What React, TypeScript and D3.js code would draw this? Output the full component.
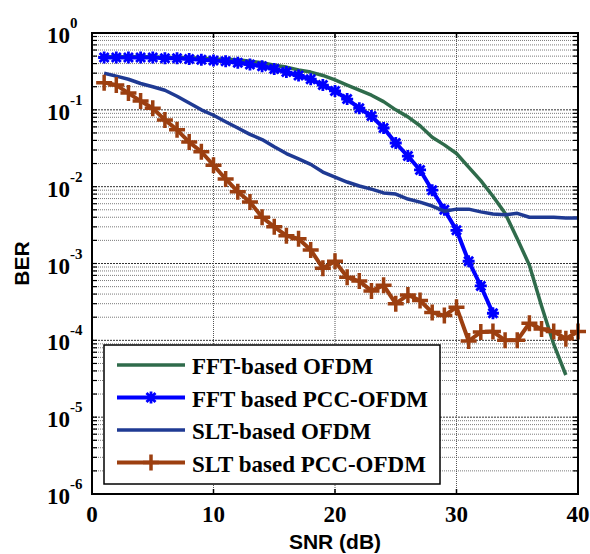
import React from "react";
import * as d3 from "d3";

const width = 590;
const height = 554;
const margin = { top: 33, right: 12, bottom: 60, left: 92 };

const snrAll = d3.range(1, 41);

// FFT-based OFDM (plain line)
const fftOfdm = [0.49, 0.49, 0.49, 0.49, 0.49, 0.48, 0.48, 0.475, 0.47, 0.46, 0.455, 0.45, 0.43, 0.41, 0.38, 0.36, 0.33, 0.31, 0.28, 0.245,
  0.21, 0.18, 0.155, 0.128, 0.1, 0.081, 0.062, 0.044, 0.035, 0.027, 0.018, 0.012, 0.0075, 0.0045, 0.0021, 0.00095, 0.00028, 0.000089, 0.0000354];
// FFT based PCC-OFDM (asterisk markers)
const fftPcc = [0.48, 0.48, 0.48, 0.48, 0.48, 0.47, 0.47, 0.46, 0.45, 0.44, 0.43, 0.41, 0.39, 0.37, 0.34, 0.31, 0.28, 0.25, 0.21, 0.176,
  0.138, 0.105, 0.083, 0.058, 0.037, 0.025, 0.0165, 0.009, 0.005, 0.0027, 0.00107, 0.00051, 0.000225];
// SLT-based OFDM (plain line)
const sltOfdm = [0.30, 0.275, 0.25, 0.22, 0.2, 0.18, 0.15, 0.123, 0.1, 0.085, 0.07, 0.058, 0.048, 0.041, 0.033, 0.027, 0.023, 0.0195, 0.0155, 0.0133,
  0.0115, 0.0102, 0.0093, 0.0083, 0.008, 0.0069, 0.0063, 0.0056, 0.0048, 0.0051, 0.0051, 0.0047, 0.0044, 0.0043, 0.0045, 0.004, 0.004, 0.004, 0.0039, 0.0039];
// SLT based PCC-OFDM (plus markers)
const sltPcc = [0.226, 0.21, 0.165, 0.13, 0.105, 0.074, 0.055, 0.038, 0.0285, 0.019, 0.0126, 0.0086, 0.0063, 0.004, 0.003, 0.0023, 0.0021, 0.0015, 0.00087, 0.00107,
  0.00066, 0.00059, 0.00044, 0.00052, 0.0003, 0.00039, 0.00033, 0.00023, 0.00021, 0.00027, 0.000098, 0.000128, 0.00013, 0.0001, 0.0001, 0.000167, 0.00014, 0.00013, 0.000105, 0.00013];

const xTicks = [0, 10, 20, 30, 40];
const yDecades = [0, -1, -2, -3, -4, -5, -6];

const series = [
  { name: "FFT-based OFDM", values: fftOfdm, color: "#2f6b4b", marker: "none", lw: 3.5 },
  { name: "FFT based PCC-OFDM", values: fftPcc, color: "#0000ff", marker: "star", lw: 4 },
  { name: "SLT-based OFDM", values: sltOfdm, color: "#1f3a93", marker: "none", lw: 3.5 },
  { name: "SLT based PCC-OFDM", values: sltPcc, color: "#9c3f10", marker: "plus", lw: 4 },
];

const serif = "'Liberation Serif', 'Times New Roman', serif";
const sans = "'Liberation Sans', Arial, sans-serif";

function Marker({ type, x, y, color }: { type: string; x: number; y: number; color: string }) {
  if (type === "plus") {
    const r = 8;
    return (
      <path d={`M${x - r},${y}H${x + r}M${x},${y - r}V${y + r}`} stroke={color} strokeWidth={3.5} fill="none" />
    );
  }
  if (type === "star") {
    const r = 6;
    const q = r * 0.75;
    return (
      <path
        d={`M${x - r},${y}H${x + r}M${x},${y - r}V${y + r}M${x - q},${y - q}L${x + q},${y + q}M${x - q},${y + q}L${x + q},${y - q}`}
        stroke={color}
        strokeWidth={2.8}
        fill="none"
      />
    );
  }
  return null;
}

export default function App() {
  const x = d3.scaleLinear().domain([0, 40]).range([margin.left, width - margin.right]);
  const y = d3.scaleLog().domain([1e-6, 1]).range([height - margin.bottom, margin.top]);
  const line = d3
    .line<number>()
    .x((_, i) => x(snrAll[i]))
    .y((d) => y(d));

  const minors: number[] = [];
  yDecades.slice(1).forEach((e) => {
    for (let k = 2; k <= 9; k++) minors.push(k * Math.pow(10, e));
  });

  const x0 = x(0);
  const x1 = x(40);
  const y0 = y(1e-6);
  const y1 = y(1);

  const leg = { x: 104, y: 345, w: 336, h: 139 };

  return (
    <svg width={width} height={height} style={{ position: "absolute", left: 0, top: 0, background: "#fff" }}>
      {/* minor horizontal grid */}
      {minors.map((m) => (
        <line key={"mg" + m} x1={x0} x2={x1} y1={y(m)} y2={y(m)} stroke="#7a7a7a" strokeWidth={1} strokeDasharray="1,1" />
      ))}
      {/* major horizontal grid */}
      {yDecades.map((e) => (
        <line key={"Mg" + e} x1={x0} x2={x1} y1={y(Math.pow(10, e))} y2={y(Math.pow(10, e))} stroke="#333" strokeWidth={1} strokeDasharray="2,1" />
      ))}
      {/* vertical grid */}
      {xTicks.slice(1, -1).map((t) => (
        <line key={"vg" + t} x1={x(t)} x2={x(t)} y1={y1} y2={y0} stroke="#555" strokeWidth={1} strokeDasharray="1,1" />
      ))}

      {/* ticks */}
      {xTicks.slice(1, -1).map((t) => (
        <g key={"xt" + t}>
          <line x1={x(t)} x2={x(t)} y1={y0} y2={y0 - 5} stroke="#000" strokeWidth={1.5} />
          <line x1={x(t)} x2={x(t)} y1={y1} y2={y1 + 5} stroke="#000" strokeWidth={1.5} />
        </g>
      ))}
      {minors.concat(yDecades.map((e) => Math.pow(10, e))).map((m) => (
        <g key={"yt" + m}>
          <line x1={x0} x2={x0 + 5} y1={y(m)} y2={y(m)} stroke="#000" strokeWidth={1.2} />
          <line x1={x1} x2={x1 - 5} y1={y(m)} y2={y(m)} stroke="#000" strokeWidth={1.2} />
        </g>
      ))}

      {/* curves */}
      {series.map((s) => (
        <g key={s.name}>
          <path d={line(s.values) || ""} fill="none" stroke={s.color} strokeWidth={s.lw} strokeLinejoin="round" />
          {s.values.map((v, i) => (
            <Marker key={i} type={s.marker} x={x(snrAll[i])} y={y(v)} color={s.color} />
          ))}
        </g>
      ))}

      {/* frame */}
      <rect x={x0} y={y1} width={x1 - x0} height={y0 - y1} fill="none" stroke="#000" strokeWidth={2} />

      {/* y tick labels */}
      {yDecades.map((e) => (
        <text key={"yl" + e} x={47} y={y(Math.pow(10, e)) + 10} fontFamily={serif} fontWeight="bold" fontSize={23} fill="#000">
          10
          <tspan dy={-15} fontSize={15}>
            {e}
          </tspan>
        </text>
      ))}
      {/* x tick labels */}
      {xTicks.map((t) => (
        <text key={"xl" + t} x={x(t)} y={522} textAnchor="middle" fontFamily={serif} fontWeight="bold" fontSize={23} fill="#000">
          {t}
        </text>
      ))}

      {/* axis titles */}
      <text x={(x0 + x1) / 2} y={549} textAnchor="middle" fontFamily={sans} fontWeight="bold" fontSize={21} fill="#000">
        SNR (dB)
      </text>
      <text
        transform={`translate(29,${(y0 + y1) / 2}) rotate(-90)`}
        textAnchor="middle"
        fontFamily={sans}
        fontWeight="bold"
        fontSize={21}
        fill="#000"
      >
        BER
      </text>

      {/* legend */}
      <rect x={leg.x} y={leg.y} width={leg.w} height={leg.h} fill="#fff" stroke="#000" strokeWidth={1.5} />
      {series.map((s, i) => {
        const ly = 365 + i * 32.5;
        return (
          <g key={"lg" + s.name}>
            <line x1={117} x2={185} y1={ly} y2={ly} stroke={s.color} strokeWidth={s.lw} />
            <Marker type={s.marker} x={151} y={ly} color={s.color} />
            <text x={192} y={ly + 9} fontFamily={serif} fontWeight="bold" fontSize={23} fill="#000">
              {s.name}
            </text>
          </g>
        );
      })}
    </svg>
  );
}
